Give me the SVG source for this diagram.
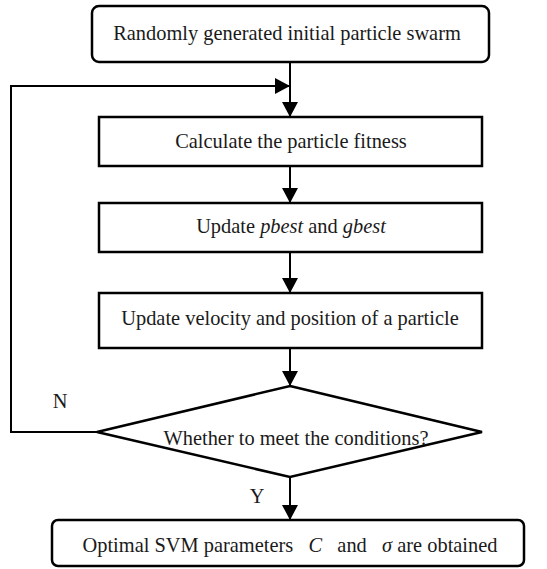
<svg xmlns="http://www.w3.org/2000/svg" width="547" height="569" viewBox="0 0 547 569">
<style>
.b{fill:#fff;stroke:#000;stroke-width:2.5}
.c{fill:none;stroke:#000;stroke-width:2}
.t{font-family:'Liberation Serif','DejaVu Serif',serif;font-size:20.4px;fill:#1a1a1a;text-anchor:middle}
.i{font-style:italic}
</style>
<defs>
<marker id="a" markerWidth="15" markerHeight="16" refX="15" refY="8" orient="auto" markerUnits="userSpaceOnUse">
<path d="M0,0 L15,8 L0,16 Z" fill="#000"/>
</marker>
</defs>
<rect width="547" height="569" fill="#fff"/>
<g id="connectors">
<line class="c" x1="290" y1="62" x2="290" y2="117" marker-end="url(#a)"/>
<polyline class="c" points="97,432 11,432 11,86 290,86" marker-end="url(#a)"/>
<line class="c" x1="290" y1="166" x2="290" y2="203" marker-end="url(#a)"/>
<line class="c" x1="290" y1="252" x2="290" y2="293" marker-end="url(#a)"/>
<line class="c" x1="290" y1="348" x2="290" y2="386" marker-end="url(#a)"/>
<line class="c" x1="290" y1="477" x2="290" y2="520" marker-end="url(#a)"/>
<text class="t" x="60" y="408">N</text>
<text class="t" x="257" y="503">Y</text>
</g>
<g id="start">
<rect class="b" x="92" y="6" width="397" height="56" rx="7"/>
<text class="t" x="287" y="40">Randomly generated initial particle swarm</text>
</g>
<g id="fitness">
<rect class="b" x="99" y="117" width="383" height="49"/>
<text class="t" x="291" y="148">Calculate the particle fitness</text>
</g>
<g id="update-best">
<rect class="b" x="99" y="203" width="383" height="49"/>
<text class="t" x="291" y="233">Update <tspan class="i">pbest</tspan> and <tspan class="i">gbest</tspan></text>
</g>
<g id="update-velocity">
<rect class="b" x="99" y="293" width="383" height="55"/>
<text class="t" x="290" y="325">Update velocity and position of a particle</text>
</g>
<g id="decision">
<polygon class="b" points="290,386 482,432 290,477 97,432"/>
<text class="t" x="296" y="445">Whether to meet the conditions?</text>
</g>
<g id="end">
<rect class="b" x="52" y="520" width="472" height="46" rx="6"/>
<text class="t" x="290" y="552" xml:space="preserve">Optimal SVM parameters   <tspan class="i">C</tspan>   and   <tspan class="i">σ</tspan> are obtained</text>
</g>
</svg>
